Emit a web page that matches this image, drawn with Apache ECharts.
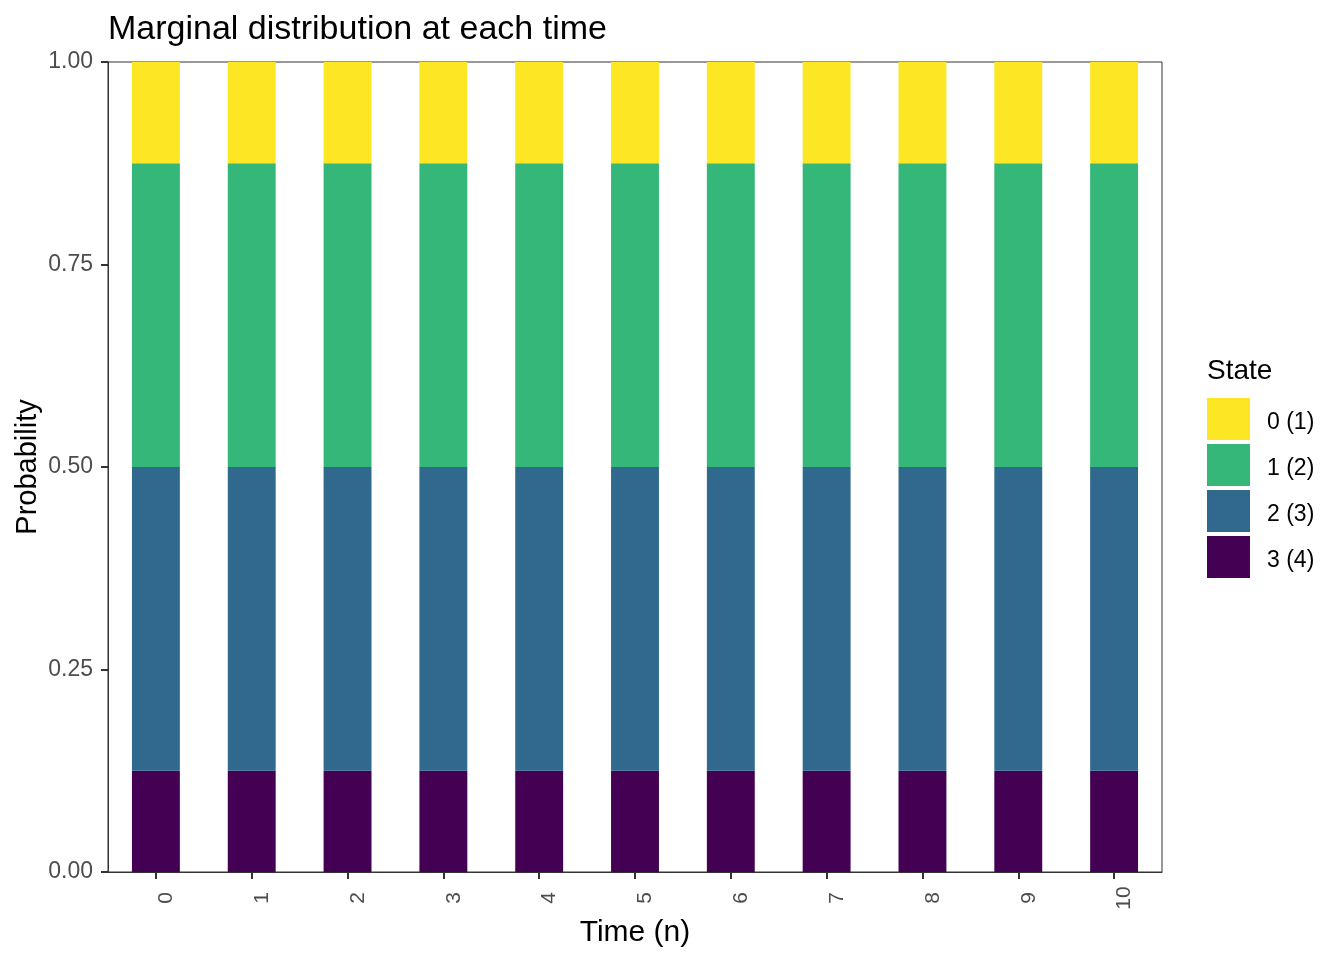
<!DOCTYPE html>
<html>
<head>
<meta charset="utf-8">
<script src="https://cdn.jsdelivr.net/npm/echarts@6/dist/echarts.min.js"></script>
<style>
html,body{margin:0;padding:0;background:#fff;}
#chart{width:1344px;height:960px;}
</style>
</head>
<body>
<div id="chart"></div>
<script>
const categories = ['0','1','2','3','4','5','6','7','8','9','10'];
const stateNames = ['0 (1)','1 (2)','2 (3)','3 (4)'];
const state0 = [0.125,0.125,0.125,0.125,0.125,0.125,0.125,0.125,0.125,0.125,0.125];
const state1 = [0.375,0.375,0.375,0.375,0.375,0.375,0.375,0.375,0.375,0.375,0.375];
const state2 = [0.375,0.375,0.375,0.375,0.375,0.375,0.375,0.375,0.375,0.375,0.375];
const state3 = [0.125,0.125,0.125,0.125,0.125,0.125,0.125,0.125,0.125,0.125,0.125];
const yTicks = [0, 0.25, 0.5, 0.75, 1];
const colors = {'0 (1)':'#FDE725','1 (2)':'#35B779','2 (3)':'#31688E','3 (4)':'#440154'};

const FONT = 'Liberation Sans, Arial, sans-serif';
const chart = echarts.init(document.getElementById('chart'), null, {renderer:'canvas'});

function mk(name, data){
  return {name:name, type:'bar', stack:'p', data:data, barWidth:'50%',
    itemStyle:{color:colors[name]}, emphasis:{disabled:true}};
}

chart.setOption({
  animation:false,
  textStyle:{fontFamily:FONT},
  title:{text:'Marginal distribution at each time', left:108, top:13, padding:0,
    textStyle:{fontFamily:FONT, fontSize:34, fontWeight:'normal', color:'#000'}},
  grid:{left:108, right:182, top:62, bottom:88, show:true, borderColor:'#333', borderWidth:1,
    backgroundColor:'transparent', containLabel:false, outerBoundsMode:'none'},
  legend:{orient:'vertical', left:1207, top:398, itemWidth:43, itemHeight:42, itemGap:4, padding:0,
    icon:'rect', data:stateNames, selectedMode:false,
    formatter:function(n){return '{t|' + n + '}';},
    textStyle:{fontFamily:FONT, fontSize:23, color:'#000',
      rich:{t:{fontFamily:FONT, fontSize:23, color:'#000', padding:[8,0,0,12]}}}},
  graphic:[{type:'text', left:1207, top:357, style:{text:'State', font:'28px '+FONT, fill:'#000'}}],
  xAxis:{type:'category', data:categories, boundaryGap:true,
    name:'Time (n)', nameLocation:'middle', nameGap:46, nameMoveOverlap:false,
    nameTextStyle:{fontFamily:FONT, fontSize:30, color:'#000'},
    axisLine:{show:true, lineStyle:{color:'#333', width:1}},
    axisTick:{show:true, alignWithLabel:true, length:7, lineStyle:{color:'#333', width:2}},
    axisLabel:{rotate:90, align:'center', verticalAlign:'top', margin:26, fontSize:21, color:'#4d4d4d', fontFamily:FONT},
    splitLine:{show:false}},
  yAxis:{type:'value', min:0, max:1, interval:0.25,
    name:'Probability', nameLocation:'middle', nameGap:66, nameRotate:90, nameMoveOverlap:false,
    nameTextStyle:{fontFamily:FONT, fontSize:29, color:'#000'},
    axisLine:{show:true, lineStyle:{color:'#333', width:1}},
    axisTick:{show:true, length:7, lineStyle:{color:'#333', width:2}},
    axisLabel:{margin:15, fontSize:23, color:'#4d4d4d', fontFamily:FONT,
      formatter:function(v){return v.toFixed(2);}},
    splitLine:{show:false}},
  series:[mk('3 (4)', state3), mk('2 (3)', state2), mk('1 (2)', state1), mk('0 (1)', state0)]
});
</script>
</body>
</html>
